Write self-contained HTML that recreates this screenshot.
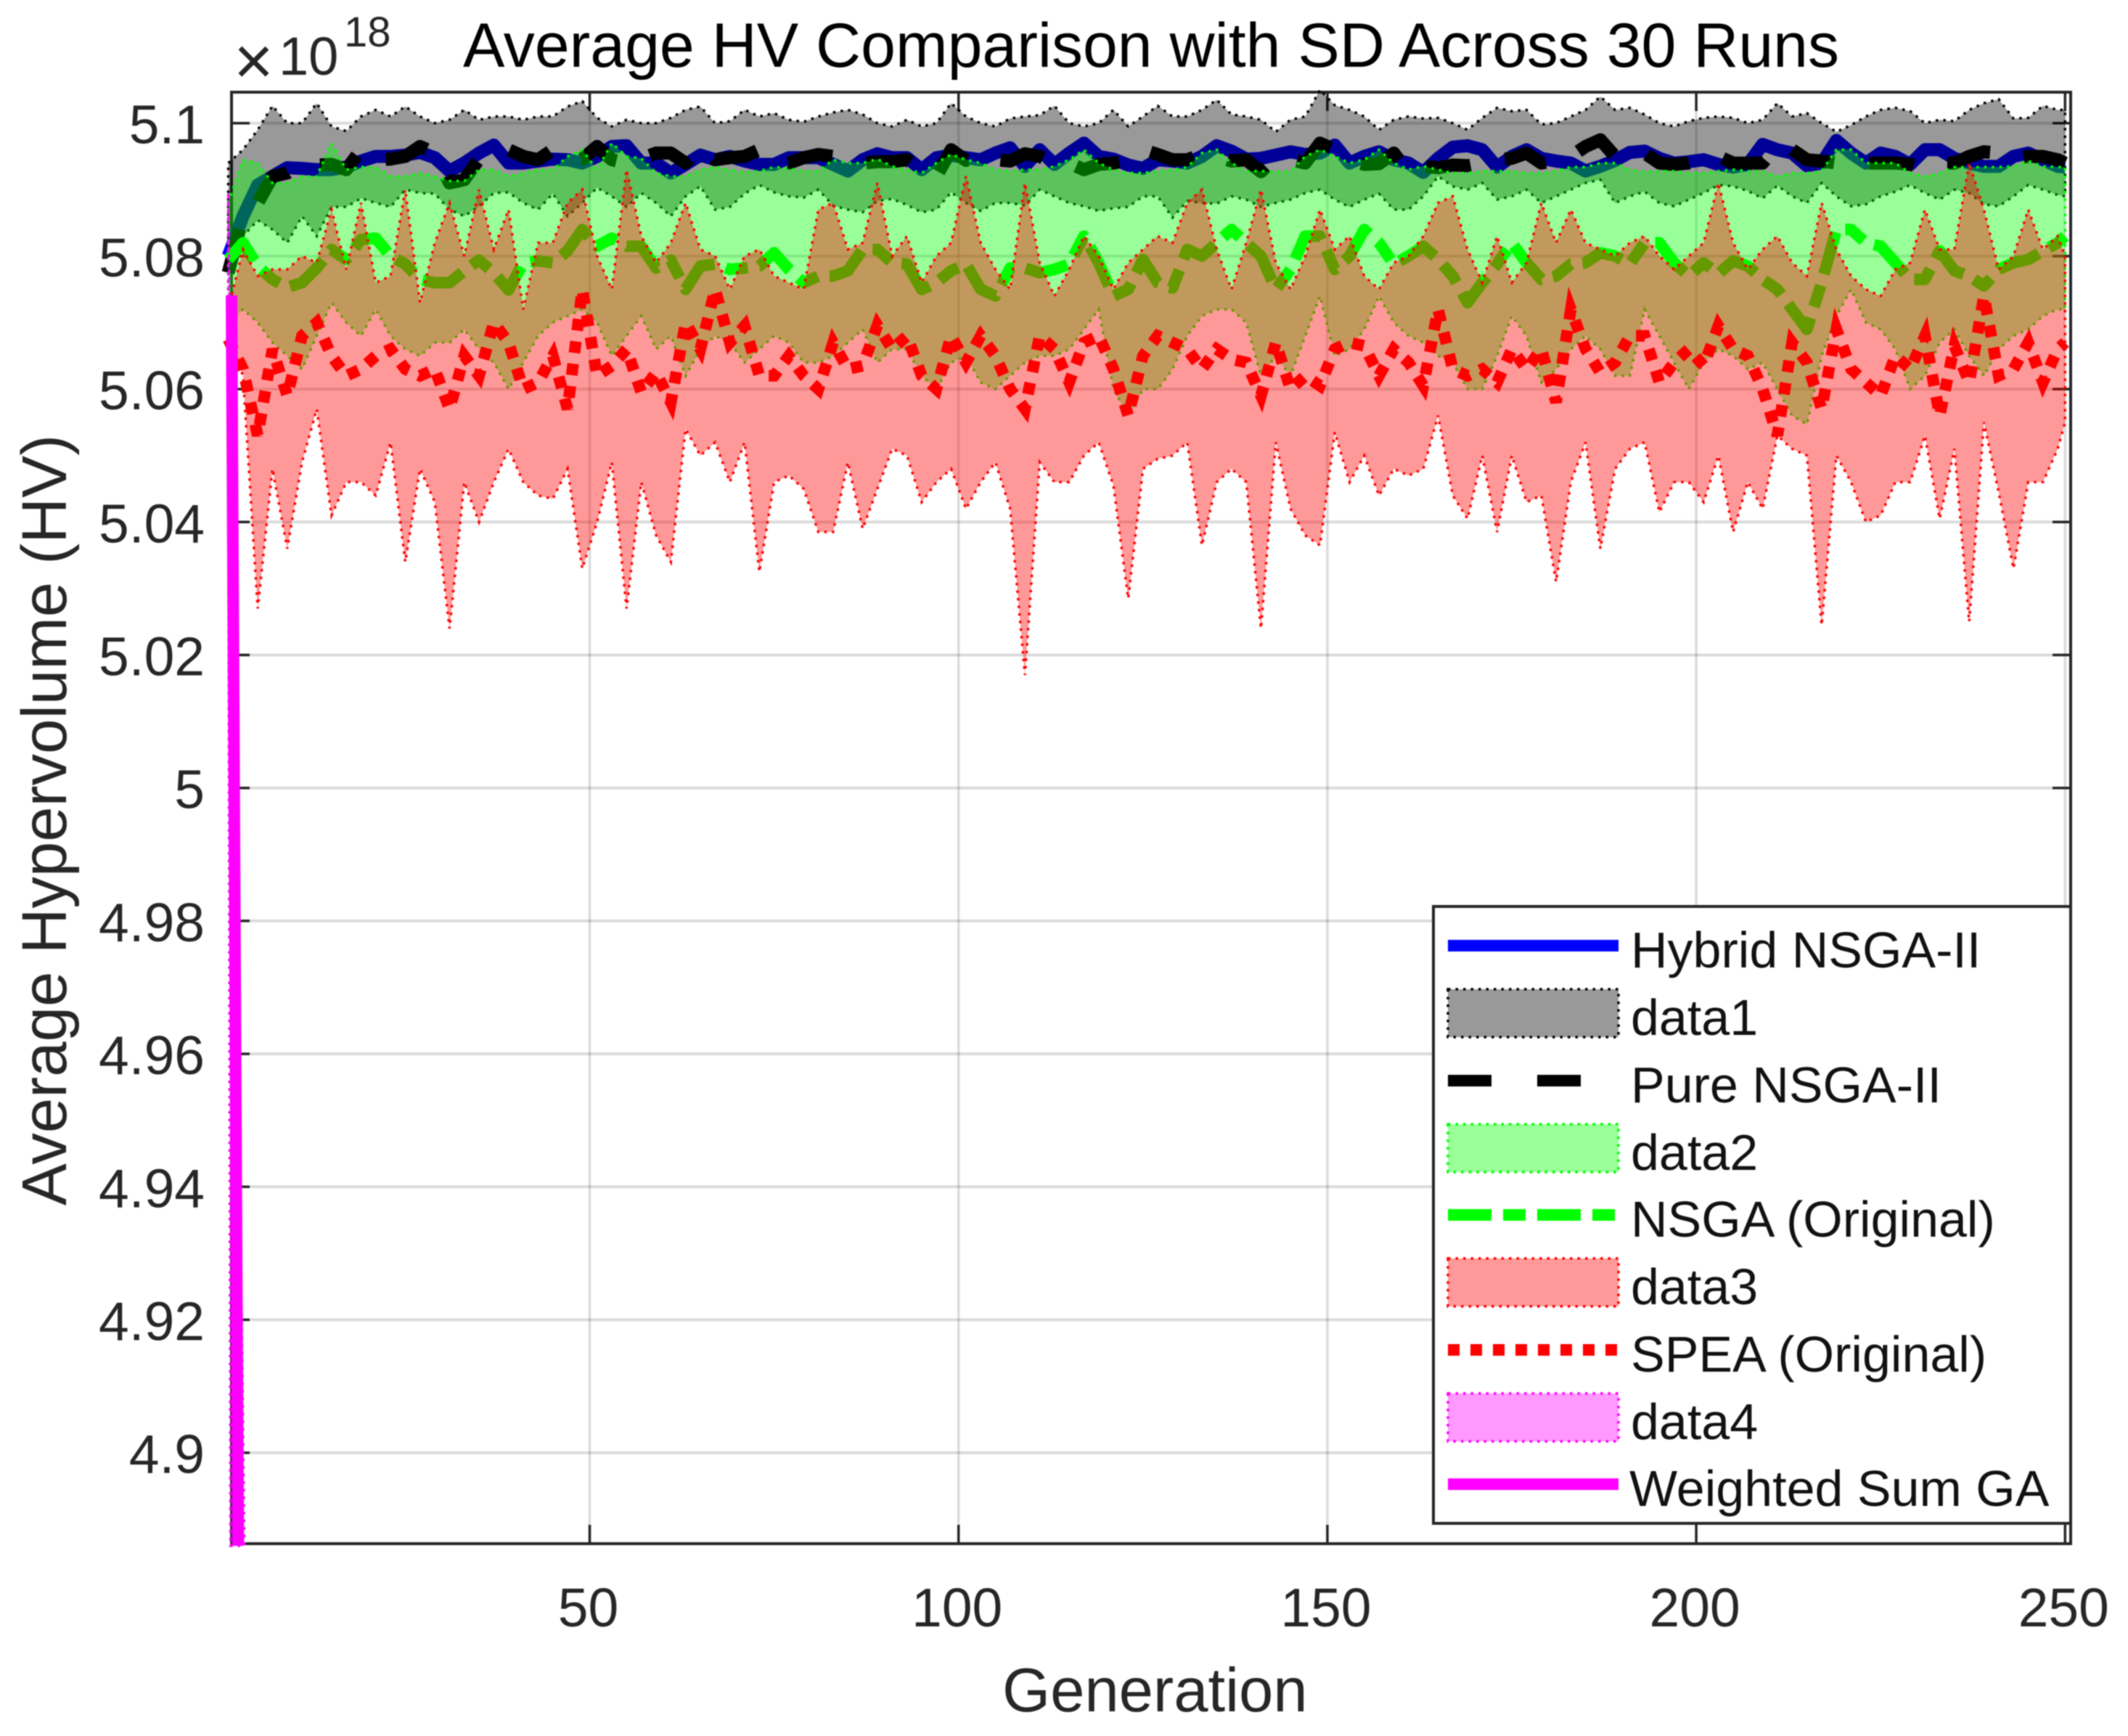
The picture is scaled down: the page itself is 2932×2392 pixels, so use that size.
<!DOCTYPE html>
<html lang="en">
<head>
<meta charset="utf-8">
<title>Average HV Comparison with SD Across 30 Runs</title>
<style>
html,body{margin:0;padding:0;background:#fff;}
body{width:2932px;height:2392px;overflow:hidden;}
svg{display:block;filter:blur(0.7px);}
text{font-family:"Liberation Sans",Arial,sans-serif;}
</style>
</head>
<body>
<svg id="chart" xmlns="http://www.w3.org/2000/svg" width="2932" height="2392" viewBox="0 0 2932 2392">
  <rect x="0" y="0" width="2932" height="2392" fill="#fff"/>
  <g id="grid"></g>
  <g id="axes"></g>
  <g id="marks"></g>
  <text x="1586" y="92" font-size="86" text-anchor="middle" fill="#000">Average HV Comparison with SD Across 30 Runs</text>
  <text x="1381" y="2358" font-size="85" fill="#262626">Generation</text>
  <text transform="translate(91,1130) rotate(-90)" font-size="87" text-anchor="middle" fill="#262626">Average Hypervolume (HV)</text>
  <g fill="#262626">
    <text x="322" y="116" font-size="94">×</text>
    <text x="384" y="103" font-size="74">10</text>
    <text x="474" y="64" font-size="58">18</text>
  </g>
  <g id="legend">
    <rect x="1975" y="1249" width="878" height="850" fill="#fff" stroke="#262626" stroke-width="4"/>
    <g>
      <line x1="1995" x2="2230" y1="1303" y2="1303" stroke="#0000ff" stroke-width="16"/>
      <text x="2247" y="1333" font-size="70" fill="#111">Hybrid NSGA-II</text>
    </g>
    <g>
      <rect x="1995" y="1363" width="235" height="66" fill="#000" fill-opacity="0.4" stroke="#000" stroke-width="3.5" stroke-dasharray="3.5 7"/>
      <text x="2247" y="1426" font-size="70" fill="#111">data1</text>
    </g>
    <g>
      <line x1="1995" x2="2230" y1="1489" y2="1489" stroke="#000" stroke-width="16" stroke-dasharray="60 63"/>
      <text x="2247" y="1519" font-size="70" fill="#111">Pure NSGA-II</text>
    </g>
    <g>
      <rect x="1995" y="1549" width="235" height="66" fill="#00ff00" fill-opacity="0.4" stroke="#00ff00" stroke-width="3.5" stroke-dasharray="3.5 7"/>
      <text x="2247" y="1612" font-size="70" fill="#111">data2</text>
    </g>
    <g>
      <line x1="1995" x2="2230" y1="1674" y2="1674" stroke="#00ff00" stroke-width="16" stroke-dasharray="60 16 31 16"/>
      <text x="2247" y="1704" font-size="70" fill="#111">NSGA (Original)</text>
    </g>
    <g>
      <rect x="1995" y="1734" width="235" height="66" fill="#ff0000" fill-opacity="0.4" stroke="#ff0000" stroke-width="3.5" stroke-dasharray="3.5 7"/>
      <text x="2247" y="1797" font-size="70" fill="#111">data3</text>
    </g>
    <g>
      <line x1="1995" x2="2230" y1="1860" y2="1860" stroke="#ff0000" stroke-width="16" stroke-dasharray="16 15"/>
      <text x="2247" y="1890" font-size="70" fill="#111">SPEA (Original)</text>
    </g>
    <g>
      <rect x="1995" y="1920" width="235" height="66" fill="#ff00ff" fill-opacity="0.4" stroke="#ff00ff" stroke-width="3.5" stroke-dasharray="3.5 7"/>
      <text x="2247" y="1983" font-size="70" fill="#111">data4</text>
    </g>
    <g>
      <line x1="1995" x2="2230" y1="2045" y2="2045" stroke="#ff00ff" stroke-width="16"/>
      <text x="2245" y="2075" font-size="70" fill="#111">Weighted Sum GA</text>
    </g>
  </g>
</svg>
<script>
// All HV values are expressed as (HV / 1e18 - 5) * 1000.
const xTickValues = [50, 100, 150, 200, 250];
const xTickLabels = ["50", "100", "150", "200", "250"];
const yTickValues = [100, 80, 60, 40, 20, 0, -20, -40, -60, -80, -100];
const yTickLabels = ["5.1", "5.08", "5.06", "5.04", "5.02", "5", "4.98", "4.96", "4.94", "4.92", "4.9"];

const generations = [
1,3,5,7,9,11,13,15,17,19,
21,23,25,27,29,31,33,35,37,39,
41,43,45,47,49,51,53,55,57,59,
61,63,65,67,69,71,73,75,77,79,
81,83,85,87,89,91,93,95,97,99,
101,103,105,107,109,111,113,115,117,119,
121,123,125,127,129,131,133,135,137,139,
141,143,145,147,149,151,153,155,157,159,
161,163,165,167,169,171,173,175,177,179,
181,183,185,187,189,191,193,195,197,199,
201,203,205,207,209,211,213,215,217,219,
221,223,225,227,229,231,233,235,237,239,
241,243,245,247,249,250];

const hybridMean = [
80,86,90.7,92,93.3,93.2,93,93,93.4,94.3,
95,95,95.2,95.6,94.8,92.8,94,95.5,96.7,94,
94,94.3,94.6,94.5,94,95,96.5,96.6,94,94,
92.5,93.8,95.2,94.5,95,94.3,93.8,93.8,94.8,94.8,
94.8,93.8,92.8,94.5,95.4,94.8,94.8,93,94.8,95.2,
94.8,94.5,95.5,96.3,93.5,96,93.8,95.5,97,95,
94.6,93.7,93.2,94.5,94.3,94,95,96.6,95.8,94.6,
94.7,95.2,95.7,95.3,95.5,96.7,94,95,95.7,94.5,
94,92.6,94.7,96.4,96.6,96,93.4,95,96,94.7,
94.3,94,92.8,93.5,94.4,95.6,95.8,94.7,94,94.2,
94.5,93.8,93.4,93.8,96.8,96,95.5,93.6,94,97.4,
95.5,94,95.5,95,93.8,96,96,94.7,94,93.5,
93.5,95,95.5,94.5,93.5,93.4];

const pureMean = [
77.5,86,88,92,92.5,94,93.7,93.8,93,96,
94.5,94.6,95,96.5,95.5,91,91.5,94.6,95,96,
95,94.5,96,94.5,94.6,96.5,94.5,94,94.7,95.5,
95.5,94,96.5,94.5,94.8,95,96,95,94,94.8,
95.3,95,94.2,94,94.2,94.2,94.5,93,92,96,
94.4,95.2,94.5,94.3,95.4,95,94,94,93,93.8,
94,94.5,96,95.3,94.5,94.5,95.3,95,94.3,94.5,
92.7,94.8,94.5,94,97,96,94.4,93.8,93.9,95.5,
92.5,93.5,93.3,93.7,93.6,94,94.5,94.7,95.5,94,
94.4,95,96.5,97.5,95,95,95.5,94,93.8,94,
94.6,95,94,94,94,96.7,96,94.5,94.3,94,
94,94,94,94,93.8,93.2,94,94,95,95.7,
95.5,94.6,95,95,94.5,94];

const nsgaMean = [
79.5,82,78.5,76.5,75.3,76,78.2,81,79.5,82.5,
82.7,80,78.8,76.5,76,76,77.8,79.4,77.5,74.9,
79,79.3,79,80.8,84,81.5,82.7,81.5,81.5,78.2,
79.4,75,78.5,78.8,78,78.2,78.5,80.5,78,76,
77,77,77.8,81,81,79,78.8,75,76,77.8,
78.8,75,74,78.2,78.2,77.5,78,78.8,83,79,
74,75,79.5,76,75.2,81,80,82,84,82,
80,75,78,83,83,78,80,84,82,78.8,
80,81.5,79.5,77,73,76,78.8,82,79,76.5,
77,78.8,79,80.5,80,78.8,82,82,79,77,
79,77.3,79.3,78.5,76.5,75,72,69,76,84,
84,82,81.5,79,76.5,76.5,80.8,77.8,77,75.5,
78,79,79.5,80.8,82,83];

const speaMean = [
67.5,63,53,66,59,68,70,65,62,63,
65,66,63,62,63,57,65,62,70,67,
60,61,65,57,75,62,63.5,66,59.5,62.5,
58,70,66,75,67,69.5,62,62,65,62,
60,67,63,63.5,69.6,66,68,62,60,68,
64,68,65,60,57,68,66,61,67,68,
63,56,65,68,67,66,63,66,64.5,64,
59,67,60,62,60.5,66,67,66.5,62,66,
64,60.5,72,63,62,63,61,66,63,66,
58,72,66,62.5,64,68,68,61,64,66,
63.5,69.5,66,65,60,53,67,64,57,69,
63,61,59,65,63,68,56,66.5,61,74,
62,63,67,61,66,67];

const grayBandUpper = [
94,96,99,102.6,100,100,103,99.5,98.8,101,
102,101,102.5,101,100,100.5,102,100.5,101,101,
100.5,101,101,102.5,103.3,100.8,99.5,100.5,100,100,
100.8,102,102.5,100,100.3,102,101,101.5,100.5,100.2,
101,101.6,102,101.3,100,99.5,100.5,99.5,100,103,
101,100,99.5,100.7,101,101.2,102.6,100,99.5,100,
102,99.5,101,102.6,101,101,102,103.5,101.3,101,
100.5,98.7,100.5,101,105,102.7,102,101,99,100.5,
101,100.7,100.8,100,99,100.8,102.3,101.8,102,99.8,
100,101,102,104,102,102.3,101.3,100,99.5,100.3,
100.8,101,100.8,100,100.5,103,101,101.5,100,98.7,
99.7,101,102,102.3,101.8,100,100.5,100.3,102,103,
103.6,100.7,100.8,102.6,102,102];

const grayBandLower = [
78,83,85.4,84,82,86,83,87.4,87.4,88.7,
88,87.4,90,89.5,89.4,87,86,87.5,89.5,89.6,
88,87,89.4,86,88,90.3,89,87.4,89.5,88,
86,89,90.5,87,87.4,89.4,90.7,89.6,89,88.8,
90,87.6,87,86.6,88.3,88.6,87.7,86.6,87,89.6,
88,86.8,88,88,87.6,90,89,88,87.5,86.8,
87.2,87.4,89,89,85.8,88.3,88,87.9,89,88.5,
87.4,88,88.5,89.5,90,88.5,87.4,88.5,89.4,87,
87,89,92,90.5,90,91,88.5,89,90,88,
89,90,91,91.5,88,89,89.7,88,87.5,88.5,
89.5,90.7,90.5,89.8,88.7,90.6,89,88,91,89,
87.5,87.8,89,89.7,90.7,89.5,88.5,90,89.5,87.8,
87.5,89,90.7,90,89.2,89];

const greenBandUpper = [
88,94.5,94,91,91,92,92,97,93,93.4,
93.4,92,92,92.5,92,91.3,91.3,93,93,92,
92.5,93,93,95,96,93,97,95,94.7,92.5,
92,92,93,93.4,93,92.6,92.8,93.4,93.2,92.8,
92.8,94.5,94,94,94.6,93.5,93,92.5,94,95.3,
94.5,94,93,92.8,93,93,93.5,94.5,96,94,
93,92.5,92.5,92.8,93,93.4,95.5,96,94,92.8,
92.8,92.7,92.8,95,96,95,94,94.5,96,94,
93,93.5,93,92.5,92.5,92.8,92.8,92.8,92.5,92.5,
92.8,93.4,93.4,94,94,93,92.7,92.8,92.8,92.5,
92.5,92.8,93,92.8,92.8,92,92.5,92.5,92.8,96,
96,94,94,94,92.5,92,92.5,93.4,93.4,93.4,
93.4,93.5,94.3,93.5,93.4,93.4];

const greenBandLower = [
70,72,70,67,65,63,68,73,70,68,
72,68,66,65,67,67,69,66,64,60,
64,68,70,71,72,70,65,68,71,66,
68,62,66,68,67,64,66,68,67,64,
64,65,67,69,64,66,66,62,60,64,
65,61,60,62,64,65,65,66,69,72,
60,56,60,60,63,68,71,72,72,70,
62,65,62,68,74,65,66,69,74,70,
68,67,65,64,60,60,65,71,68,61,
63,66,68,66,62,62,72,68,64,60,
64,66,65,63,64,60,56,54.7,65,71,
75,70,69,66,60,62,67,69,65,62,
66,68,69,71,72,72];

const redBandUpper = [
72,81,77,78,78,80,79,87,78,88,
76,77,90,73,82,88,80,90,81,87,
72,82,82,88,90,80,75,93,83,79,
82,88,81,80,75,80,81,77,76,75,
87,88,81,82,91,80,83,76,80,82,
92,82,78,75,91,79,74,78,83,80,
75,79,81,83,82,88,90,81,75,82,
90,79,75,80,87,81,83,77,75,79,
80,83,88,89,81,76,83,76,79,88,
82,87,82,81,80,82,83,80,78,80,
82,91,82,78,81,83,79,77,88,81,
77,75,74,78,79,87,81,81,94,87,
78,80,87,81,83,80];

const redBandLower = [
68,62,27,48,36,49,57,41,46,46,
44,52,34,48,43,24,46,40,46,51,
46,44,43.5,48,33,40,49,27,46,38,
34,54,50,52,46,52,32.5,46,47,45,
38.5,38.5,49,39,45,51,50,43,46,48,
42,46,49,42,17,49,46,46,50,52,
45.5,28.5,48,49.5,50,52,36.5,46,48,46,
24,52,42,38,36.5,53.5,46,50,44,48,
47,48,56,44,40.5,50,38.5,50,43,44,
31,46,52,36,48,51,52,41.5,46,46,
43,50,38.5,46,42,53,51,50,24.5,50,
46,40,41,46,46,53,40.5,51,25,55,
44.5,33,46,46,51,55];

// Weighted Sum GA falls almost vertically out of the plot right after its first generation.
const weightedGenerations = [1.45, 2.35];
const weightedMean = [74.1, -114];
const magentaUpperGenerations = [1, 3.2];
const magentaBandUpper = [89.4, -114];
const magentaLowerGenerations = [1, 1.3];
const magentaBandLower = [55, -114];

const SVGNS = "http://www.w3.org/2000/svg";
const xScale = g => 1320.7 + (g - 100) * 10.164;
const yScale = v => 169.7 + (100 - v) * 9.16;

function make(tag, attrs, parent) {
  const el = document.createElementNS(SVGNS, tag);
  for (const k in attrs) el.setAttribute(k, attrs[k]);
  parent.appendChild(el);
  return el;
}
function linePath(gens, vals) {
  return gens.map((g, i) => (i ? "L" : "M") + xScale(g).toFixed(1) + " " + yScale(vals[i]).toFixed(1)).join("");
}
function bandPath(upGens, up, lowGens, low) {
  const top = upGens.map((g, i) => xScale(g).toFixed(1) + " " + yScale(up[i]).toFixed(1));
  const bottom = lowGens.map((g, i) => xScale(g).toFixed(1) + " " + yScale(low[i]).toFixed(1)).reverse();
  return "M" + top.concat(bottom).join("L") + "Z";
}

const gridGroup = document.getElementById("grid");
const axesGroup = document.getElementById("axes");
const marksGroup = document.getElementById("marks");
const LEFT = 319, RIGHT = 2853, TOP = 127, BOTTOM = 2127;

yTickValues.forEach((v, i) => {
  const y = yScale(v);
  const grid = make("line", {x1: LEFT, x2: RIGHT, y1: y, y2: y, stroke: "#000", "stroke-opacity": 0.14, "stroke-width": 4}, gridGroup);
  
  
  const tl = make("line", {x1: LEFT, x2: LEFT + 25, y1: y, y2: y, stroke: "#262626", "stroke-width": 3.5}, axesGroup);
  
  
  const tr = make("line", {x1: RIGHT, x2: RIGHT - 25, y1: y, y2: y, stroke: "#262626", "stroke-width": 3.5}, axesGroup);
  
  
  const label = make("text", {x: 282, y: y + 28, "font-size": 75, "text-anchor": "end", fill: "#262626"}, axesGroup);
  label.textContent = yTickLabels[i];
  
  
});
xTickValues.forEach((v, i) => {
  const x = xScale(v);
  const grid = make("line", {x1: x, x2: x, y1: TOP, y2: BOTTOM, stroke: "#000", "stroke-opacity": 0.14, "stroke-width": 3.5}, gridGroup);
  
  
  const tb = make("line", {x1: x, x2: x, y1: BOTTOM, y2: BOTTOM - 26, stroke: "#262626", "stroke-width": 3.5}, axesGroup);
  
  
  const tt = make("line", {x1: x, x2: x, y1: TOP, y2: TOP + 26, stroke: "#262626", "stroke-width": 3.5}, axesGroup);
  
  
  const label = make("text", {x: x - 2, y: 2241, "font-size": 75, "text-anchor": "middle", fill: "#262626"}, axesGroup);
  label.textContent = xTickLabels[i];
  
  
});
const frame = make("rect", {x: LEFT, y: TOP, width: RIGHT - LEFT, height: BOTTOM - TOP, fill: "none", stroke: "#262626", "stroke-width": 4}, axesGroup);



const hybridLine = make("path", {d: linePath(generations, hybridMean), fill: "none", stroke: "#0000ff", "stroke-width": 18, "stroke-linejoin": "round"}, marksGroup);



const grayBand = make("path", {d: bandPath(generations, grayBandUpper, generations, grayBandLower), fill: "#000", "fill-opacity": 0.4, stroke: "#000", "stroke-width": 3.5, "stroke-dasharray": "3.5 7"}, marksGroup);



const pureLine = make("path", {d: linePath(generations, pureMean), fill: "none", stroke: "#000", "stroke-width": 18, "stroke-linejoin": "round", "stroke-dasharray": "62 48"}, marksGroup);



const greenBand = make("path", {d: bandPath(generations, greenBandUpper, generations, greenBandLower), fill: "#00ff00", "fill-opacity": 0.4, stroke: "#00ff00", "stroke-width": 3.5, "stroke-dasharray": "3.5 7"}, marksGroup);



const nsgaLine = make("path", {d: linePath(generations, nsgaMean), fill: "none", stroke: "#00ff00", "stroke-width": 16, "stroke-linejoin": "round", "stroke-dasharray": "60 16 31 16"}, marksGroup);



const redBand = make("path", {d: bandPath(generations, redBandUpper, generations, redBandLower), fill: "#ff0000", "fill-opacity": 0.4, stroke: "#ff0000", "stroke-width": 3.5, "stroke-dasharray": "3.5 7"}, marksGroup);



const speaLine = make("path", {d: linePath(generations, speaMean), fill: "none", stroke: "#ff0000", "stroke-width": 16, "stroke-dasharray": "16 15"}, marksGroup);



const magentaBand = make("path", {d: bandPath(magentaUpperGenerations, magentaBandUpper, magentaLowerGenerations, magentaBandLower), fill: "#ff00ff", "fill-opacity": 0.4, stroke: "#ff00ff", "stroke-width": 3.5, "stroke-dasharray": "3.5 7"}, marksGroup);



const weightedLine = make("path", {d: linePath(weightedGenerations, weightedMean), fill: "none", stroke: "#ff00ff", "stroke-width": 16}, marksGroup);


</script>
</body>
</html>
